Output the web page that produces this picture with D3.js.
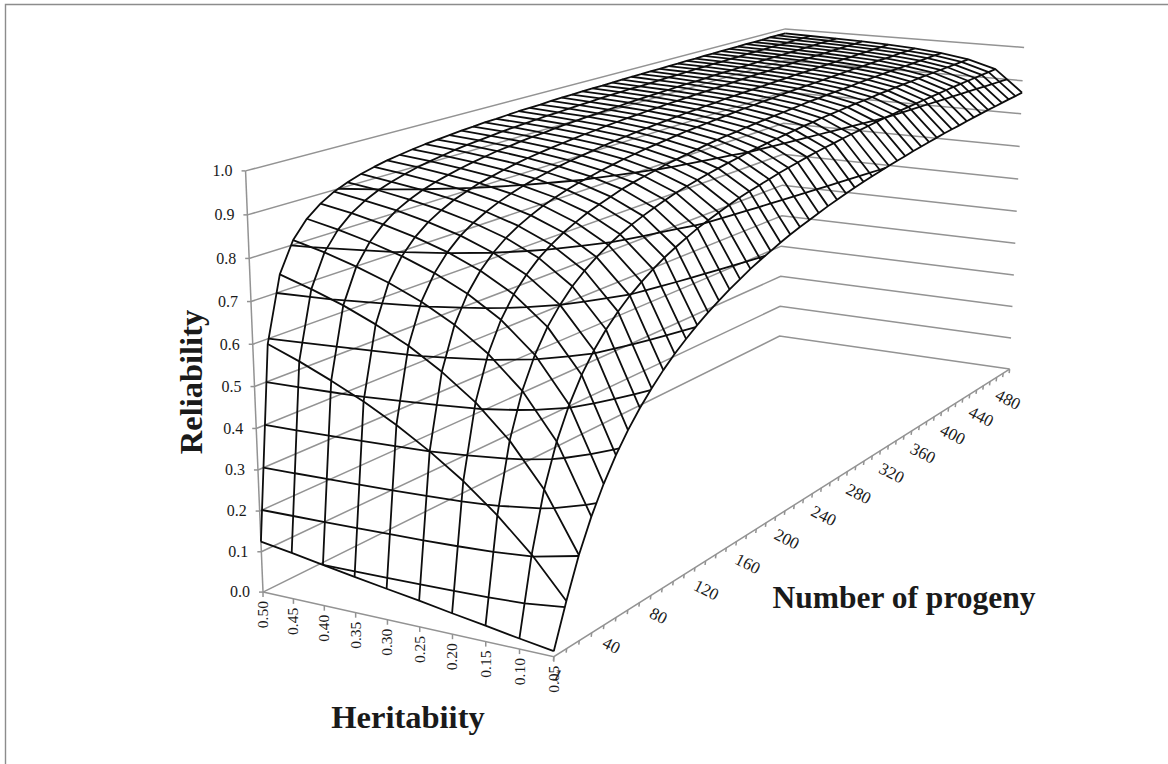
<!DOCTYPE html>
<html>
<head>
<meta charset="utf-8">
<script src="https://cdn.jsdelivr.net/npm/d3@7"></script>
<style>
  html, body { margin: 0; padding: 0; background: #fff; }
  svg { display: block; }
  text { font-family: "Liberation Serif", serif; fill: #1a1a1a; }
</style>
</head>
<body>
<div id="visualization"></div>
<script>
var heritability = ["0.50", "0.45", "0.40", "0.35", "0.30", "0.25", "0.20", "0.15", "0.10", "0.05"];
var progeny = [1, 10, 20, 30, 40, 50, 60, 70, 80, 90, 100, 110, 120, 130, 140, 150, 160, 170, 180, 190, 200, 210, 220, 230, 240, 250,
  260, 270, 280, 290, 300, 310, 320, 330, 340, 350, 360, 370, 380, 390, 400, 410, 420, 430, 440, 450, 460, 470, 480, 490, 500];
var reliabilityTicks = [0, 0.1, 0.2, 0.3, 0.4, 0.5, 0.6, 0.7, 0.8, 0.9, 1.0];
var progenyLabels = [1, 40, 80, 120, 160, 200, 240, 280, 320, 360, 400, 440, 480];

// reliability, one list per heritability, same order as progeny
var rel050 = [.125, .588, .741, .811, .851, .877, .896, .909, .920, .928, .935, .940, .945, .949, .952, .955, .958, .960, .963, .964, .966, .968, .969, .970, .972, .973, .974, .975, .976, .976, .977, .978, .979, .979, .980, .980, .981, .981, .982, .982, .983, .983, .984, .984, .984, .985, .985, .985, .986, .986, .986];
var rel045 = [.113, .559, .717, .792, .835, .864, .884, .899, .910, .919, .927, .933, .938, .943, .947, .950, .953, .956, .958, .960, .962, .964, .965, .967, .968, .969, .971, .972, .973, .974, .974, .975, .976, .977, .977, .978, .979, .979, .980, .980, .981, .981, .982, .982, .982, .983, .983, .983, .984, .984, .984];
var rel040 = [.100, .526, .690, .769, .816, .847, .870, .886, .899, .909, .917, .924, .930, .935, .940, .943, .947, .950, .952, .955, .957, .959, .961, .962, .964, .965, .967, .968, .969, .970, .971, .972, .973, .973, .974, .975, .976, .976, .977, .977, .978, .979, .979, .979, .980, .980, .981, .981, .982, .982, .982];
var rel035 = [.087, .490, .657, .742, .793, .827, .852, .870, .885, .896, .906, .913, .920, .926, .931, .935, .939, .942, .945, .948, .950, .953, .955, .957, .958, .960, .961, .963, .964, .965, .966, .967, .968, .969, .970, .971, .972, .973, .973, .974, .975, .975, .976, .976, .977, .977, .978, .978, .979, .979, .980];
var rel030 = [.075, .448, .619, .709, .764, .802, .830, .850, .866, .879, .890, .899, .907, .913, .919, .924, .928, .932, .936, .939, .942, .945, .947, .949, .951, .953, .955, .956, .958, .959, .961, .962, .963, .964, .965, .966, .967, .968, .969, .969, .970, .971, .971, .972, .973, .973, .974, .974, .975, .975, .976];
var rel025 = [.063, .400, .571, .667, .727, .769, .800, .824, .842, .857, .870, .880, .889, .897, .903, .909, .914, .919, .923, .927, .930, .933, .936, .939, .941, .943, .945, .947, .949, .951, .952, .954, .955, .957, .958, .959, .960, .961, .962, .963, .964, .965, .966, .966, .967, .968, .968, .969, .970, .970, .971];
var rel020 = [.050, .345, .513, .612, .678, .725, .759, .787, .808, .826, .840, .853, .863, .872, .881, .888, .894, .899, .905, .909, .913, .917, .921, .924, .927, .929, .932, .934, .936, .938, .940, .942, .944, .946, .947, .949, .950, .951, .952, .954, .955, .956, .957, .958, .959, .959, .960, .961, .962, .963, .963];
var rel015 = [.038, .280, .438, .539, .609, .661, .700, .732, .757, .778, .796, .811, .824, .835, .845, .854, .862, .869, .875, .881, .886, .891, .895, .900, .903, .907, .910, .913, .916, .919, .921, .924, .926, .928, .930, .932, .933, .935, .937, .938, .940, .941, .942, .944, .945, .946, .947, .948, .949, .950, .951];
var rel010 = [.025, .204, .339, .435, .506, .562, .606, .642, .672, .698, .719, .738, .755, .769, .782, .794, .804, .813, .822, .830, .837, .843, .849, .855, .860, .865, .870, .874, .878, .881, .885, .888, .891, .894, .897, .900, .902, .905, .907, .909, .911, .913, .915, .917, .919, .920, .922, .923, .925, .926, .928];
var rel005 = [.013, .112, .202, .275, .336, .388, .432, .470, .503, .533, .559, .582, .603, .622, .639, .655, .669, .683, .695, .706, .717, .727, .736, .744, .752, .760, .767, .774, .780, .786, .792, .797, .802, .807, .811, .816, .820, .824, .828, .832, .835, .838, .842, .845, .848, .851, .853, .856, .859, .861, .864];

var surface = [rel050, rel045, rel040, rel035, rel030, rel025, rel020, rel015, rel010, rel005];

var width = 1168, height = 764;

var svg = d3.select("#visualization").append("svg")
  .attr("width", width)
  .attr("height", height);

// Box coordinates are 0..1 on each axis, the scales put the categories on them
var hScale = d3.scalePoint().domain(heritability).range([0, 1]);
var nScale = d3.scalePoint().domain(progeny).range([0, 1]);
var zScale = d3.scaleLinear().domain([0, 1]).range([0, 1]);

// Where the box corners sit on the page: [x, y, z, pageX, pageY]
var anchors = [
  [0, 0, 0, 262.7, 592],
  [0, 0, 1, 245.7, 171],
  [0, 1, 0, 780, 336],
  [0, 1, 1, 785, 29],
  [1, 1, 0, 1009.3, 369.3],
  [1, 1, 1, 1024.3, 47.3],
  [1, 0, 0, 554, 656.7]
];

// Least squares fit of the camera matrix to the anchors
function solve(A, b) {
  var n = b.length;
  for (var i = 0; i < n; i++) {
    var best = i;
    for (var r = i + 1; r < n; r++) if (Math.abs(A[r][i]) > Math.abs(A[best][i])) best = r;
    var t = A[i]; A[i] = A[best]; A[best] = t;
    t = b[i]; b[i] = b[best]; b[best] = t;
    for (r = i + 1; r < n; r++) {
      var f = A[r][i] / A[i][i];
      for (var c = i; c < n; c++) A[r][c] -= f * A[i][c];
      b[r] -= f * b[i];
    }
  }
  var out = new Array(n);
  for (i = n - 1; i >= 0; i--) {
    var s = b[i];
    for (c = i + 1; c < n; c++) s -= A[i][c] * out[c];
    out[i] = s / A[i][i];
  }
  return out;
}

function fitCamera() {
  var rows = [], rhs = [];
  anchors.forEach(function(a) {
    var x = a[0], y = a[1], z = a[2], u = a[3], v = a[4];
    rows.push([x, y, z, 1, 0, 0, 0, 0, -u * x, -u * y, -u * z]); rhs.push(u);
    rows.push([0, 0, 0, 0, x, y, z, 1, -v * x, -v * y, -v * z]); rhs.push(v);
  });
  var N = d3.range(11).map(function(i) {
    return d3.range(11).map(function(j) { return d3.sum(rows, function(r) { return r[i] * r[j]; }); });
  });
  var B = d3.range(11).map(function(i) { return d3.sum(rows, function(r, k) { return r[i] * rhs[k]; }); });
  return solve(N, B);
}

var cam = fitCamera();

function project(x, y, z) {
  var w = cam[8] * x + cam[9] * y + cam[10] * z + 1;
  return [(cam[0] * x + cam[1] * y + cam[2] * z + cam[3]) / w,
          (cam[4] * x + cam[5] * y + cam[6] * z + cam[7]) / w];
}

var line = d3.line();

// Frame, only the top and left edges show
svg.append("path")
  .attr("d", "M5.5,764V4.5H1168")
  .attr("fill", "none")
  .attr("stroke", "#8c8c8c")
  .attr("stroke-width", 1.4);

var grey = "#939393";
var walls = svg.append("g").attr("fill", "none").attr("stroke", grey).attr("stroke-width", 1.5);

// Gridlines round the two back walls
reliabilityTicks.forEach(function(t) {
  var z = zScale(t);
  walls.append("path").attr("d", line([project(0, 0, z), project(0, 1, z), project(1, 1, z)]));
  var p = project(0, 0, z);
  walls.append("path").attr("d", line([p, [p[0] - 4, p[1]]]));
});

// Axis lines
walls.append("path").attr("d", line([project(0, 0, 0), project(0, 0, 1)]));
walls.append("path").attr("d", line([project(0, 0, 0), project(1, 0, 0), project(1, 1, 0)]));

heritability.forEach(function(h) {
  var p = project(hScale(h), 0, 0);
  walls.append("path").attr("d", line([p, [p[0], p[1] + 5]]));
});
progeny.forEach(function(n) {
  var p = project(1, nScale(n), 0);
  walls.append("path").attr("d", line([p, [p[0] - 0.5, p[1] + 4]]));
});

var mesh = svg.append("g").attr("fill", "none").attr("stroke", "#0d0d0d").attr("stroke-width", 1.8).attr("stroke-linejoin", "round");

// Mesh, lines of equal heritability
heritability.forEach(function(h, j) {
  mesh.append("path").attr("d", line(progeny.map(function(n, i) {
    return project(hScale(h), nScale(n), zScale(surface[j][i]));
  })));
});

// Mesh, lines of equal progeny
progeny.forEach(function(n, i) {
  mesh.append("path").attr("d", line(heritability.map(function(h, j) {
    return project(hScale(h), nScale(n), zScale(surface[j][i]));
  })));
});

// Band edges of the surface at each 0.1 of reliability
var nx = progeny.length, ny = heritability.length;
var contours = d3.contours()
  .size([nx, ny])
  .thresholds(reliabilityTicks.slice(1))(d3.merge(surface));

function toGrid(pt) {
  return [Math.max(0, Math.min(nx - 1, pt[0] - 0.5)), Math.max(0, Math.min(ny - 1, pt[1] - 0.5))];
}
function onSameEdge(a, b) {
  return (a[0] === 0 && b[0] === 0) || (a[0] === nx - 1 && b[0] === nx - 1) ||
         (a[1] === 0 && b[1] === 0) || (a[1] === ny - 1 && b[1] === ny - 1);
}

contours.forEach(function(c) {
  var z = zScale(c.value);
  c.coordinates.forEach(function(poly) {
    poly.forEach(function(ring) {
      var pts = ring.map(toGrid), d = "";
      for (var k = 1; k < pts.length; k++) {
        if (onSameEdge(pts[k - 1], pts[k])) continue;
        d += line([
          project(pts[k - 1][1] / (ny - 1), pts[k - 1][0] / (nx - 1), z),
          project(pts[k][1] / (ny - 1), pts[k][0] / (nx - 1), z)
        ]);
      }
      if (d) mesh.append("path").attr("d", d);
    });
  });
});

// Tick labels
reliabilityTicks.forEach(function(t) {
  var p = project(0, 0, zScale(t));
  svg.append("text")
    .attr("x", p[0] - 13)
    .attr("y", p[1])
    .attr("dy", "0.33em")
    .attr("text-anchor", "end")
    .attr("font-size", 16)
    .text(t.toFixed(1));
});

heritability.forEach(function(h) {
  var p = project(hScale(h), 0, 0);
  svg.append("text")
    .attr("transform", "translate(" + (p[0] + 5) + "," + (p[1] + 9) + ") rotate(-90)")
    .attr("text-anchor", "end")
    .attr("font-size", 15.5)
    .text(h);
});

progenyLabels.forEach(function(n) {
  var p = project(1, nScale(n), 0);
  svg.append("text")
    .attr("transform", "translate(" + p[0] + "," + (p[1] + 16.5) + ") rotate(27)")
    .attr("dy", "0.33em")
    .attr("font-size", 17)
    .text(n);
});

// Axis titles
svg.append("text")
  .attr("x", 904).attr("y", 608)
  .attr("text-anchor", "middle")
  .attr("font-size", 31.5).attr("font-weight", "bold")
  .text("Number of progeny");
svg.append("text")
  .attr("x", 408).attr("y", 728)
  .attr("text-anchor", "middle")
  .attr("font-size", 32.5).attr("font-weight", "bold")
  .text("Heritabiity");
svg.append("text")
  .attr("transform", "translate(202,382) rotate(-90)")
  .attr("text-anchor", "middle")
  .attr("font-size", 32.5).attr("font-weight", "bold")
  .text("Reliability");
</script>
</body>
</html>
